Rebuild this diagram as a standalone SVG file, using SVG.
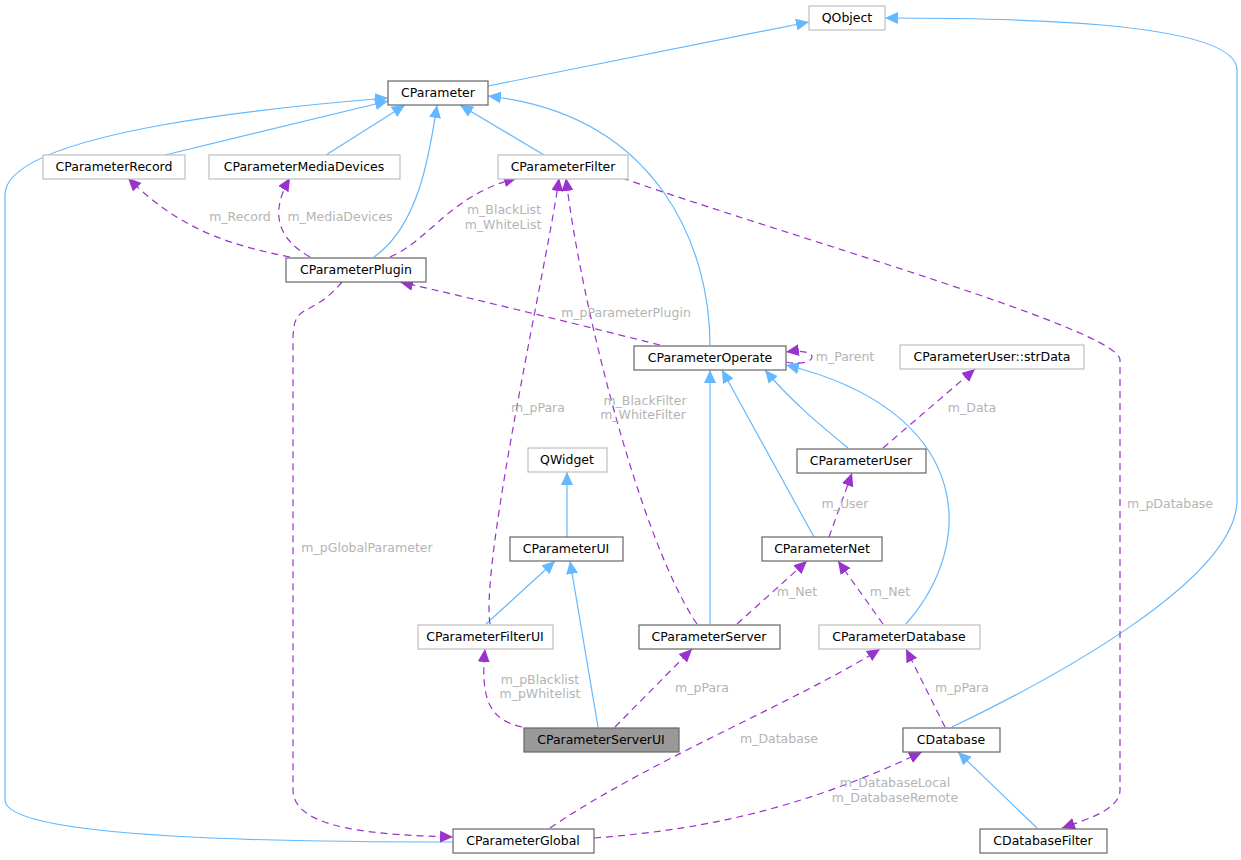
<svg xmlns="http://www.w3.org/2000/svg" width="1241" height="860" viewBox="0 0 1241 860">
<style>
.n rect{fill:#fff;stroke:#666;stroke-width:1.2}
.n.g rect{stroke:#bfbfbf}
.n.s rect{fill:#999;stroke:#666}
text{font-family:"DejaVu Sans",sans-serif;font-size:12.5px}
.n text{fill:#000;text-anchor:middle}
.l{fill:#b4b4b4;text-anchor:middle}
.b{fill:none;stroke:#63b8ff;stroke-width:1.2;marker-end:url(#ab)}
.p{fill:none;stroke:#9a32cd;stroke-width:1.2;stroke-dasharray:7,5;marker-end:url(#ap)}
</style>
<defs>
<marker id="ab" markerUnits="userSpaceOnUse" markerWidth="14" markerHeight="12" refX="13" refY="6" orient="auto"><path d="M0,0 L13,6 L0,12 z" fill="#63b8ff"/></marker>
<marker id="ap" markerUnits="userSpaceOnUse" markerWidth="14" markerHeight="12" refX="13" refY="6" orient="auto"><path d="M0,0 L13,6 L0,12 z" fill="#9a32cd"/></marker>
</defs>
<rect width="1241" height="860" fill="#fff"/>
<g id="edges">
<path class="b" d="M488,86 L809,22"/>
<path class="b" d="M165,155 L388,101"/>
<path class="b" d="M326,155 L405,105"/>
<path class="b" d="M374,257 C420,225 430,150 437,105"/>
<path class="b" d="M544,155 L460,105"/>
<path class="b" d="M710,345 C710,250 660,115 488,96"/>
<path class="b" d="M453,842 C300,842 5,840 5,800 L5,195 C5,130 300,105 388,98"/>
<path class="b" d="M952,727 C1050,680 1237,580 1237,500 L1237,70 C1237,20 1000,18 885,18"/>
<path class="b" d="M567,537 L567,472"/>
<path class="b" d="M486,624 L555,561"/>
<path class="b" d="M598,727 L570,561"/>
<path class="b" d="M710,624 L710,370"/>
<path class="b" d="M848,448 C820,425 790,400 765,370"/>
<path class="b" d="M814,537 L722,370"/>
<path class="b" d="M906,624 C980,540 970,410 786,365"/>
<path class="b" d="M1037,828 L958,752"/>
<path class="p" d="M290,257 C230,245 180,230 128,178"/>
<path class="p" d="M310,257 C280,240 268,215 290,178"/>
<path class="p" d="M390,257 C430,240 450,195 517,178"/>
<path class="p" d="M660,345 C600,330 480,300 400,282"/>
<path class="p" d="M786,362 C800,365 812,362 812,357 C812,352 800,350 786,352"/>
<path class="p" d="M883,448 L975,369"/>
<path class="p" d="M829,537 L852,473"/>
<path class="p" d="M490,624 C480,560 550,250 559,178"/>
<path class="p" d="M697,624 C640,540 580,300 566,178"/>
<path class="p" d="M622,178 C800,240 1120,330 1120,360 L1120,790 C1120,810 1085,820 1062,828"/>
<path class="p" d="M342,282 C310,320 293,300 293,340 L293,790 C293,830 380,835 453,837"/>
<path class="p" d="M737,624 L807,561"/>
<path class="p" d="M883,624 L838,561"/>
<path class="p" d="M522,727 C490,720 480,700 485,649"/>
<path class="p" d="M615,727 L692,649"/>
<path class="p" d="M550,828 C650,760 800,700 880,649"/>
<path class="p" d="M945,727 L906,649"/>
<path class="p" d="M594,838 C700,830 800,810 922,752"/>
</g>
<g id="labels">
<text class="l" x="240" y="221">m_Record</text>
<text class="l" x="340" y="221">m_MediaDevices</text>
<text class="l" x="504" y="214">m_BlackList</text>
<text class="l" x="503" y="229">m_WhiteList</text>
<text class="l" x="626" y="317">m_pParameterPlugin</text>
<text class="l" x="845" y="361">m_Parent</text>
<text class="l" x="972" y="412">m_Data</text>
<text class="l" x="845" y="508">m_User</text>
<text class="l" x="538" y="412">m_pPara</text>
<text class="l" x="645" y="405">m_BlackFilter</text>
<text class="l" x="643" y="419">m_WhiteFilter</text>
<text class="l" x="1170" y="508">m_pDatabase</text>
<text class="l" x="367" y="552">m_pGlobalParameter</text>
<text class="l" x="797" y="596">m_Net</text>
<text class="l" x="890" y="596">m_Net</text>
<text class="l" x="540" y="684">m_pBlacklist</text>
<text class="l" x="540" y="698">m_pWhitelist</text>
<text class="l" x="702" y="692">m_pPara</text>
<text class="l" x="779" y="743">m_Database</text>
<text class="l" x="962" y="692">m_pPara</text>
<text class="l" x="895" y="787">m_DatabaseLocal</text>
<text class="l" x="895" y="802">m_DatabaseRemote</text>
</g>
<g id="QObject" class="n g"><rect x="809" y="6" width="76" height="24"/><text x="847" y="22">QObject</text></g>
<g id="CParameter" class="n"><rect x="388" y="81" width="100" height="24"/><text x="438" y="97">CParameter</text></g>
<g id="CParameterRecord" class="n g"><rect x="43" y="155" width="142" height="24"/><text x="114" y="171">CParameterRecord</text></g>
<g id="CParameterMediaDevices" class="n g"><rect x="209" y="155" width="191" height="24"/><text x="304" y="171">CParameterMediaDevices</text></g>
<g id="CParameterFilter" class="n g"><rect x="498" y="155" width="130" height="24"/><text x="563" y="171">CParameterFilter</text></g>
<g id="CParameterPlugin" class="n"><rect x="286" y="258" width="140" height="24"/><text x="356" y="274">CParameterPlugin</text></g>
<g id="CParameterOperate" class="n"><rect x="634" y="346" width="152" height="24"/><text x="710" y="362">CParameterOperate</text></g>
<g id="CParameterUser_strData" class="n g"><rect x="900" y="345" width="184" height="24"/><text x="992" y="361">CParameterUser::strData</text></g>
<g id="CParameterUser" class="n"><rect x="797" y="449" width="129" height="24"/><text x="861" y="465">CParameterUser</text></g>
<g id="QWidget" class="n g"><rect x="528" y="448" width="79" height="24"/><text x="567" y="464">QWidget</text></g>
<g id="CParameterUI" class="n"><rect x="510" y="537" width="113" height="24"/><text x="566" y="553">CParameterUI</text></g>
<g id="CParameterNet" class="n"><rect x="762" y="537" width="120" height="24"/><text x="822" y="553">CParameterNet</text></g>
<g id="CParameterFilterUI" class="n g"><rect x="418" y="625" width="135" height="24"/><text x="485" y="641">CParameterFilterUI</text></g>
<g id="CParameterServer" class="n"><rect x="639" y="625" width="141" height="24"/><text x="709" y="641">CParameterServer</text></g>
<g id="CParameterDatabase" class="n g"><rect x="819" y="625" width="161" height="24"/><text x="899" y="641">CParameterDatabase</text></g>
<g id="CParameterServerUI" class="n s"><rect x="524" y="728" width="155" height="24"/><text x="601" y="744">CParameterServerUI</text></g>
<g id="CDatabase" class="n"><rect x="903" y="728" width="97" height="24"/><text x="951" y="744">CDatabase</text></g>
<g id="CParameterGlobal" class="n"><rect x="453" y="829" width="141" height="24"/><text x="523" y="845">CParameterGlobal</text></g>
<g id="CDatabaseFilter" class="n"><rect x="980" y="829" width="127" height="24"/><text x="1043" y="845">CDatabaseFilter</text></g>
</svg>
